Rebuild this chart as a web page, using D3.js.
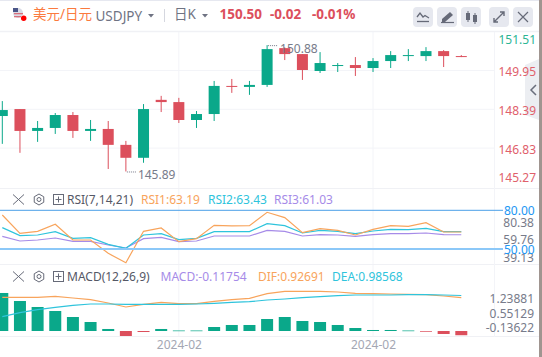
<!DOCTYPE html>
<html>
<head>
<meta charset="utf-8">
<script src="https://cdnjs.cloudflare.com/ajax/libs/d3/7.8.5/d3.min.js"></script>
<style>
  html, body { margin: 0; padding: 0; background: #fff; overflow: hidden; }
  text { font-family: "Noto Sans", "Noto Sans CJK SC", sans-serif; }
</style>
</head>
<body>
<div id="chart"></div>
<script>
// values
const opens = [148.12, 148.40, 147.52, 147.64, 148.16, 147.52, 147.60, 146.96, 146.44, 148.77, 148.68, 147.96, 148.20, 149.33, 149.29, 149.37, 150.85, 150.61, 149.93, 150.14, 150.17, 150.05, 150.33, 150.55, 150.53, 150.73, 150.53];
const closes = [148.36, 147.52, 147.64, 148.16, 147.52, 147.60, 146.96, 146.44, 148.40, 148.68, 147.96, 148.20, 149.33, 149.29, 149.37, 150.81, 150.61, 149.97, 150.25, 150.17, 150.05, 150.33, 150.57, 150.57, 150.73, 150.53, 150.50];
const highs = [148.72, 148.40, 147.92, 148.24, 148.28, 147.96, 147.92, 147.12, 148.60, 148.93, 148.85, 148.32, 149.53, 149.61, 149.53, 150.97, 150.88, 150.61, 150.69, 150.25, 150.49, 150.45, 150.73, 150.81, 150.89, 150.77, 150.57];
const lows = [147.00, 146.64, 147.08, 147.40, 147.24, 147.12, 145.99, 145.89, 146.24, 148.28, 147.84, 147.64, 147.92, 149.05, 148.97, 149.29, 150.37, 149.57, 149.85, 149.89, 149.73, 149.89, 150.05, 150.33, 150.33, 150.09, 150.49];

const rsi1 = [76.38, 62.16, 63.71, 69.14, 56.98, 56.98, 46.64, 39.40, 63.71, 66.29, 55.69, 58.02, 68.36, 67.85, 68.10, 78.45, 74.31, 62.67, 65.78, 64.48, 60.86, 65.26, 68.10, 67.59, 70.43, 63.19, 63.19];
const rsi2 = [66.55, 60.35, 60.86, 63.45, 58.28, 58.79, 53.62, 50.52, 60.86, 61.90, 57.24, 58.28, 63.45, 63.45, 63.45, 69.66, 68.10, 62.42, 64.48, 63.71, 61.90, 63.97, 65.26, 65.00, 66.04, 63.45, 63.43];
const rsi3 = [59.83, 56.21, 56.98, 58.54, 55.95, 55.95, 53.11, 50.78, 58.02, 59.05, 55.69, 56.21, 60.09, 60.09, 60.09, 64.48, 63.71, 60.09, 61.12, 60.86, 59.83, 61.12, 61.90, 61.90, 62.42, 61.12, 61.03];

const macd = [1.056, 0.833, 0.667, 0.556, 0.389, 0.25, 0.056, -0.139, -0.028, 0.056, 0.014, 0.014, 0.111, 0.167, 0.167, 0.333, 0.389, 0.278, 0.25, 0.167, 0.083, 0.028, 0.028, 0.014, -0.02, -0.083, -0.11754];
const dif = [0.935, 0.935, 0.935, 0.963, 0.917, 0.87, 0.778, 0.667, 0.741, 0.796, 0.759, 0.759, 0.824, 0.87, 0.907, 1.037, 1.102, 1.102, 1.102, 1.083, 1.046, 1.037, 1.028, 1.019, 1.009, 0.972, 0.92691];
const dea = [0.398, 0.509, 0.593, 0.657, 0.713, 0.75, 0.75, 0.741, 0.741, 0.741, 0.741, 0.75, 0.769, 0.796, 0.815, 0.861, 0.889, 0.926, 0.954, 0.981, 1.0, 1.0, 1.0, 1.009, 1.009, 1.0, 0.98568];

const priceTicks = [151.51, 149.95, 148.39, 146.83, 145.27];
const rsiLevels = [80, 50];
const rsiTicks = [80.38, 59.76, 39.13];
const macdTicks = [1.23881, 0.55129, -0.13622];
const dateTicks = [10, 21];
const dateLabel = '2024-02';

const W = 542, H = 357;
const plotRight = 494;
const up = '#0aa88a', down = '#dc4f5c';
const gridColor = '#f3f4f8', textGray = '#777b8a';

const svg = d3.select('#chart').append('svg')
  .attr('width', W).attr('height', H).style('display', 'block');

const x = d3.scaleLinear().domain([0, 26]).range([2.3, 461.3]);
const y = d3.scaleLinear().domain([149.95, 148.39]).range([70.5, 109.3]);
const yRsi = d3.scaleLinear().domain([80, 50]).range([210.3, 249]);
const yRsiLabel = d3.scaleLinear().domain([80.38, 39.13]).range([222, 257]);
const yMacd = d3.scaleLinear().domain([0, 1]).range([331, 295]);
const yMacdLabel = d3.scaleLinear().domain([1.23881, -0.13622]).range([298.3, 327.7]);
const idx = d3.range(opens.length);
const barW = 11;

// grid
svg.append('g').selectAll('line').data(priceTicks.slice(1, 4)).enter().append('line')
  .attr('x1', 0).attr('x2', plotRight)
  .attr('y1', (d) => y(d)).attr('y2', (d) => y(d))
  .attr('stroke', gridColor);
svg.append('g').selectAll('line').data(dateTicks).enter().append('line')
  .attr('x1', (d) => x(d)).attr('x2', (d) => x(d))
  .attr('y1', 32).attr('y2', 337)
  .attr('stroke', gridColor);
svg.append('g').selectAll('line').data([0.5, 31.5, 188.5, 264.5, 336.5]).enter().append('line')
  .attr('x1', 0).attr('x2', 539)
  .attr('y1', (d) => d).attr('y2', (d) => d)
  .attr('stroke', (d) => (d < 1 ? '#e6e8f0' : '#f0f1f5'))
  .attr('stroke-width', (d) => (d === 31.5 ? 1.5 : 1));
svg.append('line').attr('x1', plotRight + 0.5).attr('x2', plotRight + 0.5)
  .attr('y1', 32).attr('y2', 337).attr('stroke', gridColor);

// side tab sits behind the price labels
svg.append('path').attr('d', 'M539,59L525,65V115L539,120Z').attr('fill', '#eceef2');
svg.append('path').attr('d', 'M536,85L531,90L536,95').attr('fill', 'none').attr('stroke', '#6a6e7c').attr('stroke-width', 1.5);

// candles
const candle = svg.append('g').selectAll('g').data(idx).enter().append('g');
const color = (i) => (closes[i] >= opens[i] ? up : down);
candle.append('line')
  .attr('x1', (i) => x(i)).attr('x2', (i) => x(i))
  .attr('y1', (i) => y(highs[i])).attr('y2', (i) => y(lows[i]))
  .attr('stroke', color);
candle.append('rect')
  .attr('x', (i) => x(i) - barW / 2)
  .attr('width', barW)
  .attr('y', (i) => y(Math.max(opens[i], closes[i])))
  .attr('height', (i) => Math.max(1, Math.abs(y(opens[i]) - y(closes[i]))))
  .attr('fill', color);

// high and low notes
const note = (i, val, label, dx, dy) => {
  svg.append('line')
    .attr('x1', x(i) + 1).attr('x2', x(i) + 10)
    .attr('y1', y(val) + 0.5).attr('y2', y(val) + 0.5)
    .attr('stroke', '#777b8a').attr('stroke-dasharray', '1 1');
  svg.append('text').attr('x', x(i) + dx).attr('y', y(val) + dy)
    .attr('font-size', 12).attr('fill', '#777b8a').text(label);
};
note(7, lows[7], '145.89', 12, 7.2);
note(15, highs[15], '150.88', 13, 8);

// price labels, pinned inside the pane at both ends
svg.append('g').selectAll('text').data(priceTicks).enter().append('text')
  .attr('x', 498.5)
  .attr('y', (d) => Math.min(182, Math.max(43.5, y(d) + 5.5)))
  .attr('font-size', 12)
  .attr('fill', (d, i) => (i === 0 ? '#2bb594' : '#e0606b'))
  .text((d) => d.toFixed(2));

// RSI
const drawLine = (values, scale, stroke) => {
  const line = d3.line().x((d, i) => x(i)).y((d) => scale(d));
  svg.append('path').datum(values).attr('d', line)
    .attr('fill', 'none').attr('stroke', stroke).attr('stroke-width', 1.2);
};
drawLine(rsi3, yRsi, '#a68be8');
drawLine(rsi2, yRsi, '#2fc4dc');
drawLine(rsi1, yRsi, '#f8a45c');

svg.append('g').selectAll('line').data(rsiLevels).enter().append('line')
  .attr('x1', 0).attr('x2', 503)
  .attr('y1', (d) => yRsi(d)).attr('y2', (d) => yRsi(d))
  .attr('stroke', (d) => (d === 80 ? '#4a9fe8' : '#8cc8f8'))
  .attr('stroke-width', (d) => (d === 80 ? 1 : 2));
svg.append('g').selectAll('text').data(rsiTicks).enter().append('text')
  .attr('x', 534).attr('y', (d) => yRsiLabel(d) + 4.5)
  .attr('text-anchor', 'end').attr('font-size', 12).attr('fill', textGray)
  .text((d) => d.toFixed(2));
svg.append('g').selectAll('text').data(rsiLevels).enter().append('text')
  .attr('x', 504).attr('y', (d) => yRsi(d) + 5)
  .attr('font-size', 12).attr('fill', '#2196f3')
  .text((d) => d.toFixed(2));

// MACD
svg.append('g').selectAll('rect').data(idx).enter().append('rect')
  .attr('x', (i) => x(i) - 6)
  .attr('width', 12)
  .attr('y', (i) => Math.min(yMacd(0), yMacd(macd[i])))
  .attr('height', (i) => Math.max(0.7, Math.abs(yMacd(macd[i]) - yMacd(0))))
  .attr('fill', (i) => (macd[i] >= 0 ? up : down));
drawLine(dif, yMacd, '#f8a45c');
drawLine(dea, yMacd, '#2fc4dc');
svg.append('g').selectAll('text').data(macdTicks).enter().append('text')
  .attr('x', 534).attr('y', (d) => yMacdLabel(d) + 4.5)
  .attr('text-anchor', 'end').attr('font-size', 12).attr('fill', textGray)
  .text((d) => d.toFixed(5));

// date axis
const dateAxis = d3.axisBottom(x).tickValues(dateTicks).tickSize(0).tickFormat(() => dateLabel);
const axisG = svg.append('g').attr('transform', 'translate(0,337)').call(dateAxis);
axisG.select('.domain').remove();
axisG.selectAll('text').attr('y', 3).attr('dy', '0.71em')
  .attr('font-size', 12).attr('fill', '#a4a7b3')
  .style('font-family', '"Noto Sans", sans-serif');

// header
const head = (tx, ty, label, size, fill, weight) => svg.append('text')
  .attr('x', tx).attr('y', ty).attr('font-size', size).attr('fill', fill)
  .attr('font-weight', weight || 400).text(label);
const tri = (cx, cy) => svg.append('path')
  .attr('d', `M${cx - 3},${cy - 2}L${cx + 3},${cy - 2}L${cx},${cy + 1.5}Z`).attr('fill', '#6f7383');

svg.append('circle').attr('cx', 18).attr('cy', 13).attr('r', 5).attr('fill', '#d9dbe6');
svg.append('rect').attr('x', 13).attr('y', 8).attr('width', 5).attr('height', 4).attr('fill', '#4b5688');
svg.append('rect').attr('x', 14).attr('y', 13).attr('width', 9).attr('height', 1.3).attr('fill', '#d9707c');
svg.append('rect').attr('x', 14).attr('y', 16).attr('width', 7).attr('height', 1.3).attr('fill', '#d9707c');
svg.append('circle').attr('cx', 23.7).attr('cy', 18.3).attr('r', 2.7).attr('fill', '#f00');

head(33, 19, '美元/日元', 13.5, '#fb7a3e');
head(95.5, 20.5, 'USDJPY', 13.5, '#6f7383');
tri(151, 16);
svg.append('line').attr('x1', 164.5).attr('x2', 164.5).attr('y1', 9).attr('y2', 22).attr('stroke', '#d5d7df');
head(174, 19, '日K', 13.5, '#6f7383');
tri(205, 16);
head(219.5, 19, '150.50', 13.5, down, 700);
head(270, 19, '-0.02', 13.5, down, 700);
head(312, 19, '-0.01%', 13.5, down, 700);

// toolbar buttons
const btnX = [413, 437, 461, 489, 513];
svg.append('g').selectAll('rect').data(btnX).enter().append('rect')
  .attr('x', (d) => d).attr('y', 7).attr('width', 20).attr('height', 20).attr('rx', 4)
  .attr('fill', '#e6e8ef');
const ink = '#666a78';
svg.append('path').attr('d', 'M417,17L420,13L423,17L425,15.5L429,18').attr('fill', 'none').attr('stroke', ink).attr('stroke-width', 1.3);
svg.append('line').attr('x1', 417).attr('x2', 429).attr('y1', 21.5).attr('y2', 21.5).attr('stroke', ink).attr('stroke-width', 1.3);
svg.append('path').attr('d', 'M442,19L450,12L453,15L445,22L442,22Z').attr('fill', ink);
svg.append('line').attr('x1', 441).attr('x2', 454).attr('y1', 22.5).attr('y2', 22.5).attr('stroke', ink).attr('stroke-width', 1.2);
svg.append('rect').attr('x', 466).attr('y', 13).attr('width', 4).attr('height', 7).attr('fill', ink);
svg.append('rect').attr('x', 473).attr('y', 15).attr('width', 4).attr('height', 7).attr('fill', ink);
svg.append('path').attr('d', 'M468,11V22M475,13V24').attr('stroke', ink);
svg.append('path').attr('d', 'M494,22L504,12M500,12H504V16M494,18V22H498').attr('fill', 'none').attr('stroke', ink).attr('stroke-width', 1.4);
svg.append('path').attr('d', 'M518,12L528,22M528,12L518,22').attr('stroke', ink).attr('stroke-width', 1.2);

// window edge
svg.append('rect').attr('x', 539).attr('y', 0).attr('width', 3).attr('height', H).attr('fill', '#a09590');

// pane legends
const paneHead = (ty, iconY, name, items) => {
  svg.append('path').attr('d', `M13,${iconY - 5}L24,${iconY + 5}M24,${iconY - 5}L13,${iconY + 5}`).attr('stroke', ink);
  svg.append('path')
    .attr('d', d3.line()(d3.range(7).map((k) => [39 + 5.5 * Math.sin(k * Math.PI / 3), iconY + 5.5 * Math.cos(k * Math.PI / 3)])))
    .attr('fill', 'none').attr('stroke', ink);
  svg.append('circle').attr('cx', 39).attr('cy', iconY).attr('r', 2).attr('fill', 'none').attr('stroke', ink);
  svg.append('rect').attr('x', 53.5).attr('y', iconY - 5).attr('width', 10).attr('height', 10).attr('fill', 'none').attr('stroke', ink);
  svg.append('path').attr('d', `M55.5,${iconY}H61.5M58.5,${iconY - 3}V${iconY + 3}`).attr('stroke', ink);
  head(67, ty, name, 12, '#555866');
  items.forEach((it) => head(it[0], ty, it[1], 12, it[2]));
};
paneHead(204, 199.5, 'RSI(7,14,21)', [
  [141, 'RSI1:63.19', '#f8a45c'],
  [208, 'RSI2:63.43', '#2fc4dc'],
  [274, 'RSI3:61.03', '#a68be8'],
]);
paneHead(281, 276.5, 'MACD(12,26,9)', [
  [160.5, 'MACD:-0.11754', '#a68be8'],
  [258, 'DIF:0.92691', '#f8a45c'],
  [332, 'DEA:0.98568', '#2fc4dc'],
]);
</script>
</body>
</html>
